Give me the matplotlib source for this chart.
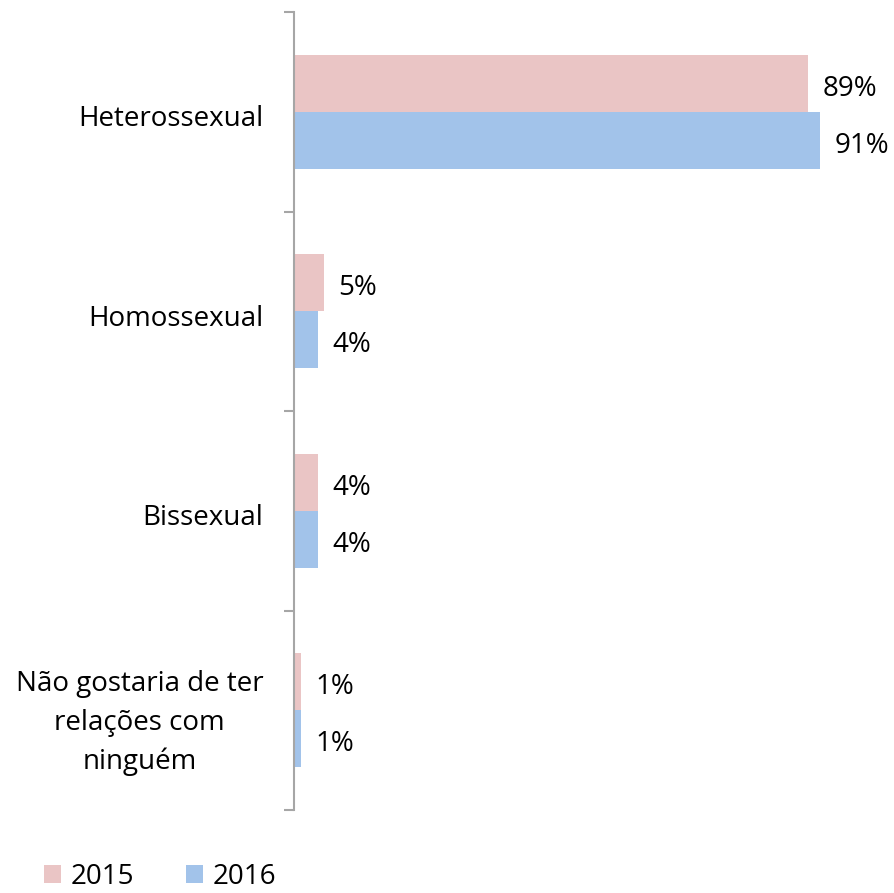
import numpy as np
import matplotlib
matplotlib.use("Agg")
import matplotlib.pyplot as plt
import matplotlib.transforms as mtransforms
from matplotlib.patches import Patch

# Dados
categorias = ["Heterossexual", "Homossexual", "Bissexual",
              "Não gostaria de ter\nrelações com\nninguém"]
anos = ["2015", "2016"]
v2015 = [89, 5, 4, 1]
v2016 = [91, 4, 4, 1]

cor_2015 = "#EAC5C5"
cor_2016 = "#A2C3EA"
cinza = "#A6A6A6"
FS = 20

plt.rcParams["font.family"] = ["Open Sans", "DejaVu Sans"]

fig = plt.figure(figsize=(8.94, 8.93), dpi=100, facecolor="white")
ax = fig.add_axes([294 / 894, 1 - 810 / 893, 577 / 894, (810 - 12) / 893])

n = len(categorias)
pos = np.arange(n)[::-1]  # primeira categoria no topo
h = 0.286

ax.barh(pos + h / 2, v2015, height=h, color=cor_2015, left=0.15)
ax.barh(pos - h / 2, v2016, height=h, color=cor_2016, left=0.15)

for p, a, b in zip(pos, v2015, v2016):
    ax.annotate(f"{a}%", (a, p + h / 2), xytext=(11, -4), textcoords="offset points",
                va="center", ha="left", fontsize=FS, color="black")
    ax.annotate(f"{b}%", (b, p - h / 2), xytext=(11, -4), textcoords="offset points",
                va="center", ha="left", fontsize=FS, color="black")

ax.set_xlim(0, 100)
ax.set_ylim(-0.5, n - 0.5)

# marcas nos limites das categorias, rótulos no centro
ax.set_yticks(np.arange(-0.5, n, 1.0))
ax.set_yticklabels([])
ax.set_yticks(pos, minor=True)
ax.set_yticklabels(categorias, minor=True, fontsize=FS, multialignment="center",
                   linespacing=1.5)
ax.tick_params(axis="y", which="major", length=7, width=1.5, color=cinza)
ax.tick_params(axis="y", which="minor", length=0, pad=22)
ax.set_xticks([])

desloc = mtransforms.ScaledTranslation(0, -3 / 72, fig.dpi_scale_trans)
for lab in ax.get_yticklabels(minor=True):
    lab.set_transform(lab.get_transform() + desloc)

for s in ["top", "right", "bottom"]:
    ax.spines[s].set_visible(False)
ax.spines["left"].set_color(cinza)
ax.spines["left"].set_linewidth(1.5)

handles = [Patch(facecolor=cor_2015), Patch(facecolor=cor_2016)]
fig.legend(handles, anos, loc="lower left", bbox_to_anchor=(0.021, -0.026), ncol=2,
           frameon=False, fontsize=FS, handlelength=0.62, handleheight=0.62,
           handletextpad=0.36, columnspacing=1.85)

fig.savefig("out.png", dpi=100, facecolor="white")
